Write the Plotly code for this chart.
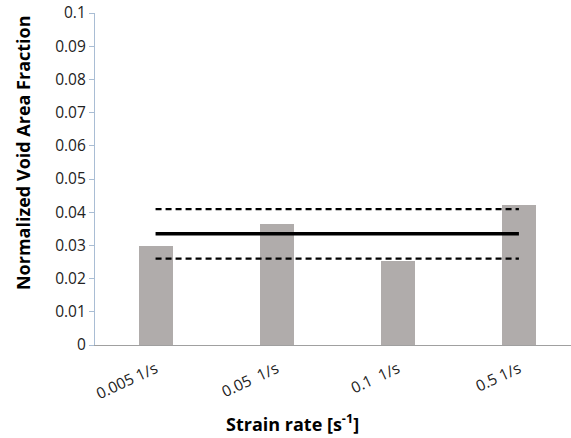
import plotly.graph_objects as go

categories = ["0.005 1/s", "0.05  1/s", "0.1  1/s", "0.5 1/s"]
void_fraction = [0.0299, 0.0365, 0.0254, 0.0421]
mean_value = 0.0335
upper_band = 0.0409
lower_band = 0.0260
y_ticks = [0, 0.01, 0.02, 0.03, 0.04, 0.05, 0.06, 0.07, 0.08, 0.09, 0.1]
y_tick_labels = ["0", "0.01", "0.02", "0.03", "0.04", "0.05", "0.06", "0.07", "0.08", "0.09", "0.1"]

x_idx = list(range(len(categories)))
span = [x_idx[0], x_idx[-1]]

fig = go.Figure()
fig.add_trace(go.Bar(
    x=x_idx, y=void_fraction, width=0.28,
    marker=dict(color="#b0acab", line=dict(width=0)),
    showlegend=False,
))
fig.add_trace(go.Scatter(
    x=span, y=[mean_value, mean_value], mode="lines",
    line=dict(color="black", width=3.5), showlegend=False,
))
for v in (upper_band, lower_band):
    fig.add_trace(go.Scatter(
        x=span, y=[v, v], mode="lines",
        line=dict(color="black", width=2.2, dash="6px,4px"), showlegend=False,
    ))

font_family = "Open Sans, Liberation Sans, sans-serif"

fig.update_layout(
    width=571, height=438,
    margin=dict(l=95, r=0, t=13, b=93),
    plot_bgcolor="white", paper_bgcolor="white",
    font=dict(family=font_family, color="#222222", size=15),
    bargap=0,
    xaxis=dict(
        range=[-0.5, 3.43],
        tickmode="array", tickvals=x_idx, ticktext=categories,
        tickangle=-25, ticks="", showgrid=False, zeroline=False,
        showline=True, linecolor="#a0a0a0", linewidth=1,
        ticklabelstandoff=8,
        tickfont=dict(size=15.5, color="#222222"),
    ),
    yaxis=dict(
        range=[0, 0.1],
        tickmode="array", tickvals=y_ticks, ticktext=y_tick_labels,
        ticks="outside", ticklen=5, tickcolor="#a9bdd4",
        showgrid=False, zeroline=False,
        showline=True, linecolor="#a9bdd4", linewidth=1.2,
        tickfont=dict(size=15.5, color="#222222"),
    ),
    annotations=[
        dict(text="<b>Normalized Void Area Fraction</b>", textangle=-90,
             xref="paper", yref="paper", x=-0.15, y=0.58,
             xanchor="center", yanchor="middle", showarrow=False,
             font=dict(size=18, color="black", family=font_family)),
        dict(text="<b>Strain rate [s<sup>-1</sup>]</b>",
             xref="paper", yref="paper", x=0.415, y=-0.236,
             xanchor="center", yanchor="middle", showarrow=False,
             font=dict(size=18, color="black", family=font_family)),
    ],
)

fig.write_html("out.html")
